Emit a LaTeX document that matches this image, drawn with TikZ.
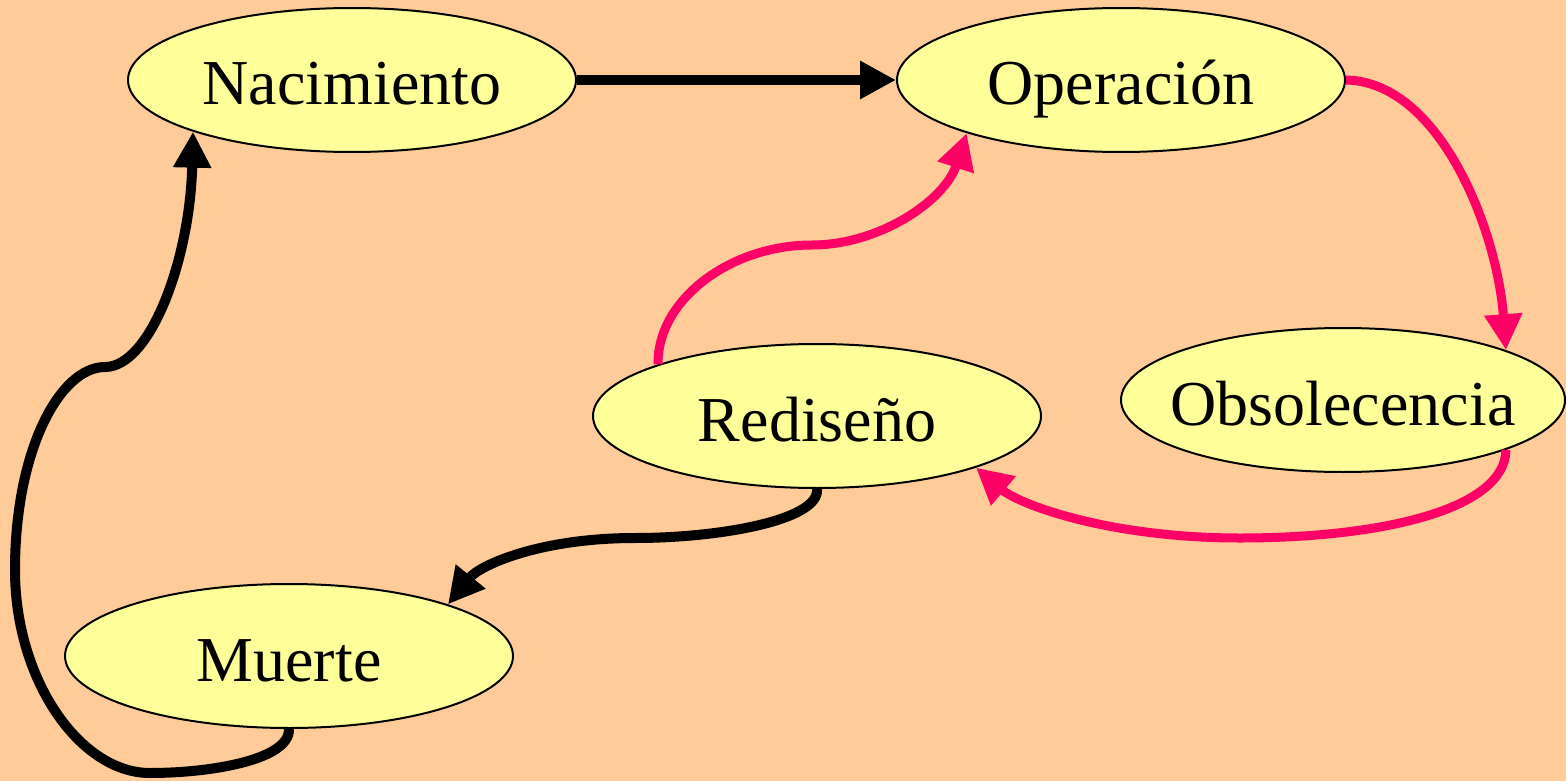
\documentclass[tikz,border=0pt]{standalone}
\usepackage{fontspec}
\setmainfont{Liberation Serif}
\usetikzlibrary{arrows.meta,shapes.geometric}
\definecolor{bgpeach}{HTML}{FFCC99}
\definecolor{ellfill}{HTML}{FFFF99}
\definecolor{magline}{HTML}{FF0066}
\newcommand{\stagetext}[1]{\makebox[0pt]{#1}}
\tikzset{
  stage/.style={ellipse, draw=black, line width=2pt, fill=ellfill, minimum width=448pt, minimum height=144pt, inner sep=0pt, text height=50pt, text depth=0pt, font=\fontsize{64}{70}\selectfont},
  blackflow/.style={draw=black, line width=10pt, -{Triangle[length=36pt,width=36pt]}},
  magflow/.style={draw=magline, line width=9pt, -{Triangle[length=36pt,width=36pt]}}
}
\begin{document}
\begin{tikzpicture}[x=1pt,y=-1pt]
\fill[bgpeach] (0,0) rectangle (1566,781);
\useasboundingbox (0,0) rectangle (1566,781);
\node[stage] (nac) at (352,80) {\stagetext{Nacimiento}};
\node[stage] (op) at (1121,80) {\stagetext{Operación}};
\node[stage, minimum width=444pt] (obs) at (1343,400) {\stagetext{Obsolecencia}};
\node[stage] (red) at (817,416) {\stagetext{Rediseño}};
\node[stage] (mue) at (289,656) {\stagetext{Muerte}};
\coordinate (c1) at (1240,538);
\coordinate (c2) at (812,245);
\coordinate (c3) at (635,538);
\coordinate (c4) at (150,773);
\coordinate (c5) at (15,570);
\coordinate (c6) at (105,367);
\draw[blackflow] (nac.east) -- (op.west);
\draw[magflow] (op.east) .. controls (1440,82) and (1497,230) .. (obs.17);
\draw[magflow] (obs.-17) .. controls (1505,510) and (1380,538) .. (c1) .. controls (1110,538) and (1020,505) .. (red.-18);
\draw[magflow] (red.162) .. controls (657,300) and (730,245) .. (c2) .. controls (880,245) and (945,200) .. (op.199);
\draw[blackflow] (red.south) .. controls (820,520) and (720,538) .. (c3) .. controls (540,538) and (480,565) .. (mue.18);
\draw[blackflow] (mue.south) .. controls (290,760) and (210,773) .. (c4) .. controls (80,773) and (15,680) .. (c5) .. controls (15,450) and (60,367) .. (c6) .. controls (150,367) and (190,260) .. (nac.198);
\end{tikzpicture}
\end{document}
